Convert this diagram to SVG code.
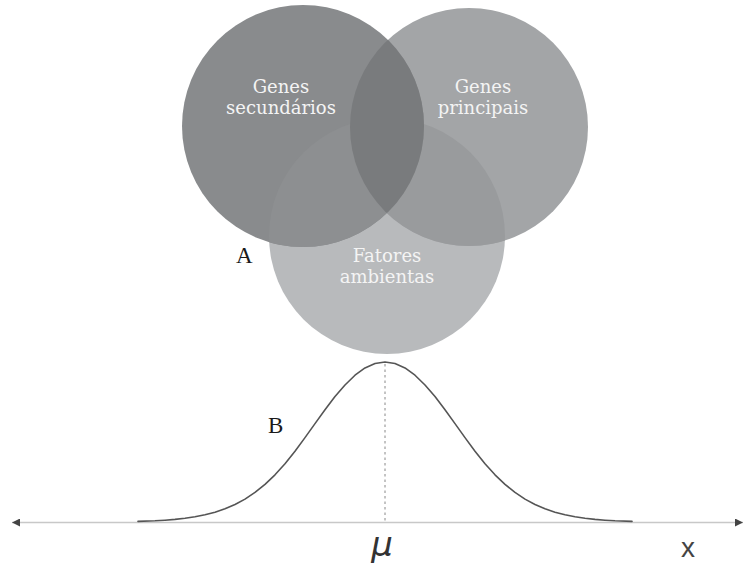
<svg xmlns="http://www.w3.org/2000/svg" width="747" height="566" viewBox="0 0 747 566">
  <defs>
    <style>
      .lbl { font-family: "DejaVu Serif", "Liberation Serif", serif; font-size: 18px; fill: #f4f4f4; text-anchor: middle; }
      .tag { font-family: "Liberation Serif", "DejaVu Serif", serif; font-size: 23px; fill: #1a1a1a; }
      .axis { stroke: #c8c8c8; stroke-width: 1.3; fill: none; }
      .curve { stroke: #555; stroke-width: 1.6; fill: none; stroke-linejoin: round; stroke-linecap: round; }
      .mean { stroke: #888; stroke-width: 1; stroke-dasharray: 2.5 3; fill: none; }
    </style>
    <clipPath id="clipB"><circle cx="387" cy="236" r="118"/></clipPath>
    <clipPath id="clipR"><circle cx="469" cy="127" r="119"/></clipPath>
    <marker id="arr" viewBox="0 0 10 10" refX="10" refY="5" markerWidth="8" markerHeight="8" markerUnits="userSpaceOnUse" orient="auto-start-reverse">
      <path d="M0,0 L10,5 L0,10 Z" fill="#444"/>
    </marker>
  </defs>
  <rect width="747" height="566" fill="#ffffff"/>

  <g id="fatores-ambientas">
    <circle cx="387" cy="236" r="118" fill="#b8babc"/>
  </g>
  <g id="genes-principais">
    <circle cx="469" cy="127" r="119" fill="#a3a5a7"/>
  </g>
  <g id="genes-secundarios">
    <circle cx="303" cy="126" r="121" fill="#898b8d"/>
  </g>

  <g id="overlaps">
    <circle cx="469" cy="127" r="119" fill="#999b9d" clip-path="url(#clipB)"/>
    <circle cx="303" cy="126" r="121" fill="#8d8f91" clip-path="url(#clipB)"/>
    <circle cx="303" cy="126" r="121" fill="#797b7d" clip-path="url(#clipR)"/>
  </g>

  <g id="labels">
    <text class="lbl" x="281" y="93">Genes</text>
    <text class="lbl" x="281" y="114">secundários</text>
    <text class="lbl" x="483" y="93">Genes</text>
    <text class="lbl" x="483" y="114">principais</text>
    <text class="lbl" x="387" y="262">Fatores</text>
    <text class="lbl" x="387" y="283">ambientas</text>
    <text class="tag" x="236" y="263">A</text>
    <text class="tag" x="268" y="433">B</text>
  </g>

  <g id="connectors">
    <line class="axis" x1="12" y1="522.5" x2="743" y2="522.5" marker-start="url(#arr)" marker-end="url(#arr)"/>
    <line class="mean" x1="385" y1="364" x2="385" y2="522"/>
    <polyline class="curve" points="138,521.4 155,520.8 165,520.2 175,519.4 185,518.3 195,516.8 205,514.8 215,512.2 225,508.8 235,504.5 245,499.1 255,492.4 265,484.3 275,474.8 285,463.8 295,451.3 305,437.6 315,423.6 325,409.8 335,396.6 345,385 355,375.2 365,367.9 375,363.5 385,362 395,363.5 405,367.9 415,375.2 425,385 435,396.6 445,409.8 455,423.6 465,437.6 475,451.3 485,463.8 495,474.8 505,484.3 515,492.4 525,499.1 535,504.5 545,508.8 555,512.2 565,514.8 575,516.8 585,518.3 595,519.4 605,520.2 615,520.8 632,521.4"/>
  </g>

  <g id="axis-labels">
    <text x="382" y="556" font-family="'DejaVu Sans', 'Liberation Sans', sans-serif" font-style="italic" font-size="34" fill="#333" text-anchor="middle">μ</text>
    <text x="688" y="557" font-family="'Liberation Sans', 'DejaVu Sans', sans-serif" font-size="28" fill="#444" text-anchor="middle">x</text>
  </g>
</svg>
